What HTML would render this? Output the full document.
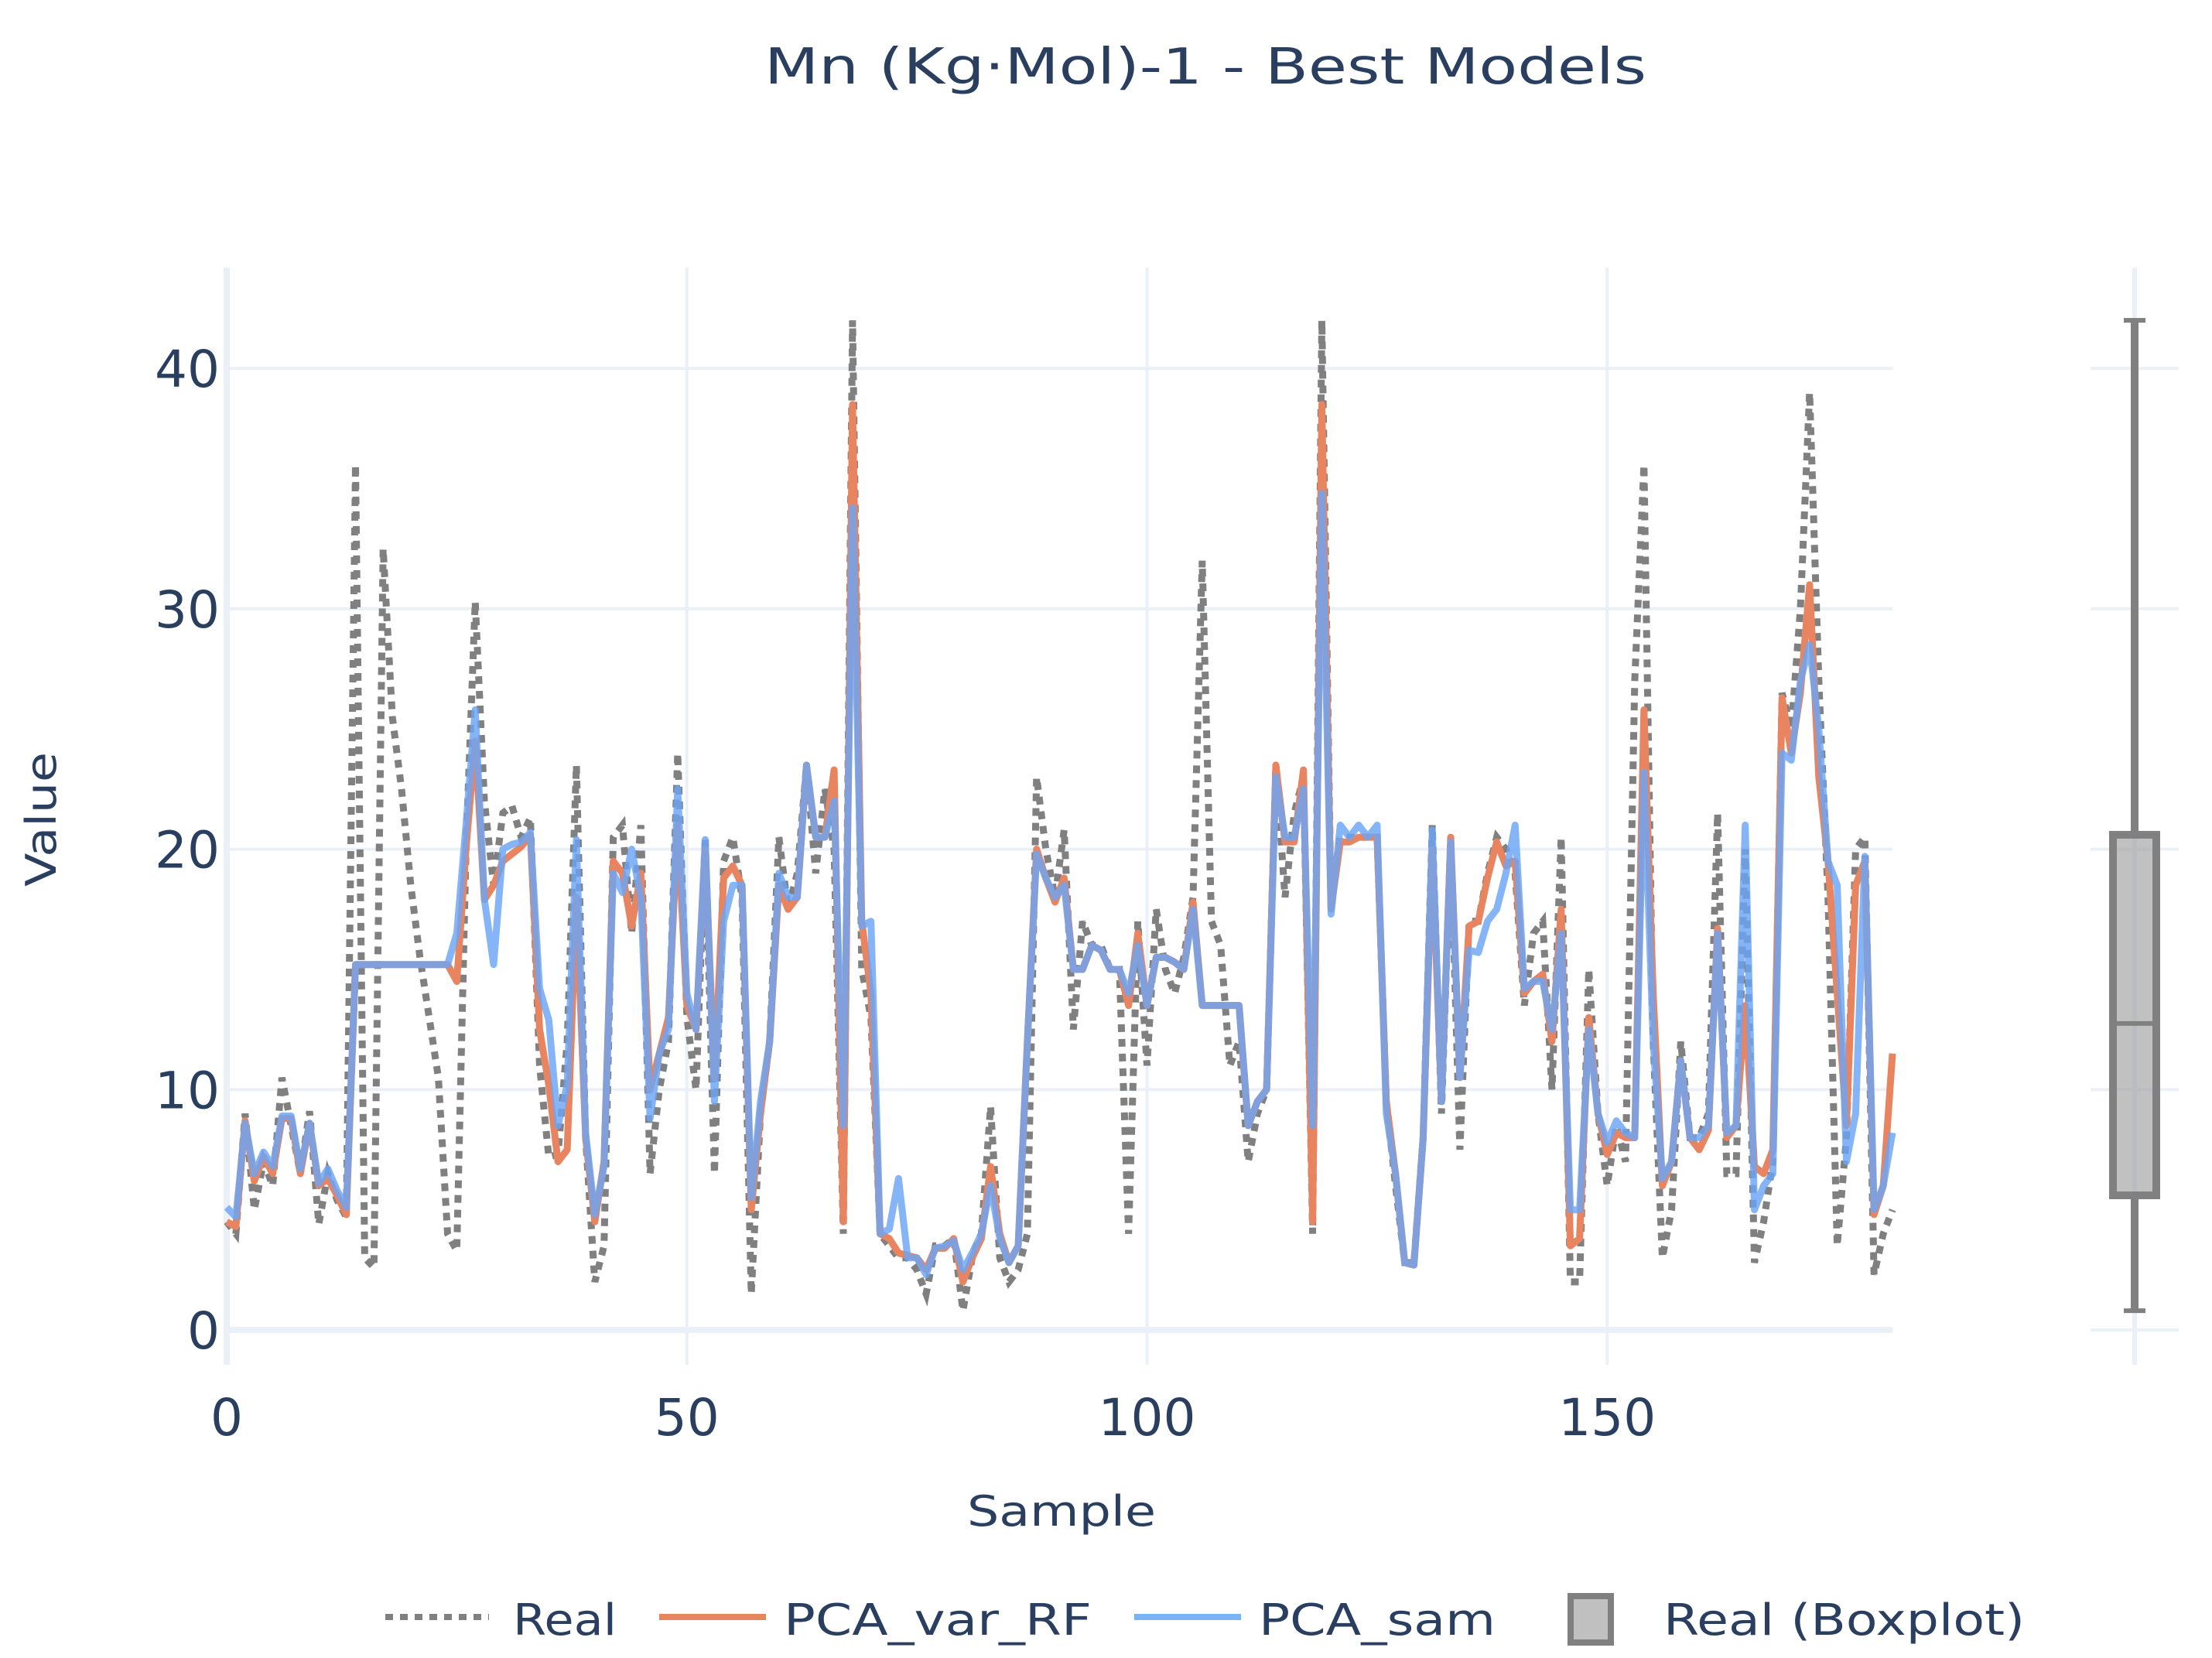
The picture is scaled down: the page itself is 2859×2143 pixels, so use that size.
<!DOCTYPE html>
<html><head><meta charset="utf-8">
<style>
html,body{margin:0;padding:0;background:#fff;}
svg{display:block;font-family:"DejaVu Sans","Liberation Sans",sans-serif;}
</style></head>
<body>
<svg id="chart" xmlns="http://www.w3.org/2000/svg" width="2859" height="2143" viewBox="0 0 2859 2143">
<rect width="2859" height="2143" fill="#fff"/>
<g id="grid"></g>
<g id="series"></g>
<g id="box"></g>
<g id="axes"></g>
<text x="1558" y="108" text-anchor="middle" font-size="64" fill="#2a3f5f" textLength="1140" lengthAdjust="spacingAndGlyphs">Mn (Kg·Mol)-1 - Best Models</text>
<text x="1372" y="1972" text-anchor="middle" font-size="54" fill="#2a3f5f" textLength="244" lengthAdjust="spacingAndGlyphs">Sample</text>
<text x="0" y="0" transform="translate(72,1059) rotate(-90)" text-anchor="middle" font-size="54" fill="#2a3f5f" textLength="174" lengthAdjust="spacingAndGlyphs">Value</text>
<g>
  <g>
    <line x1="498" y1="2090" x2="632" y2="2090" stroke="#808080" stroke-width="8" stroke-dasharray="10,9"/>
    <text x="663" y="2113" font-size="56" fill="#2a3f5f" textLength="134" lengthAdjust="spacingAndGlyphs">Real</text>
  </g>
  <g>
    <line x1="852" y1="2090" x2="990" y2="2090" stroke="#e8845f" stroke-width="8"/>
    <text x="1013" y="2113" font-size="56" fill="#2a3f5f" textLength="398" lengthAdjust="spacingAndGlyphs">PCA_var_RF</text>
  </g>
  <g>
    <line x1="1466" y1="2090" x2="1604" y2="2090" stroke="#7ab3f7" stroke-width="8"/>
    <text x="1627" y="2113" font-size="56" fill="#2a3f5f" textLength="306" lengthAdjust="spacingAndGlyphs">PCA_sam</text>
  </g>
  <g>
    <rect x="2030" y="2063" width="52" height="60" fill="#c0c0c0" stroke="#808080" stroke-width="8"/>
    <text x="2150" y="2113" font-size="56" fill="#2a3f5f" textLength="467" lengthAdjust="spacingAndGlyphs">Real (Boxplot)</text>
  </g>
</g>
</svg>
<script>
const categories = Array.from({length:182},(_,i)=>i);
const realValues = [4.5,4,9,5,7,6,10.5,8.5,6.5,9.1,4.4,6.5,5.4,4.7,
36,3,2.6,32.5,25.5,22.5,18.5,15.5,13,10.5,4,3.3,20,30.3,
22,18.5,21.5,21.8,20.5,21.3,11,7.2,7.3,12,23.5,8,2,3.5,
20.5,21,16.5,21,6.5,10,12,24,13,10,20.5,6.5,19.5,20.5,
18,1.5,9,12,20.5,17.5,19,23.5,19,22.5,20,4,42,15,
13,4,3.5,3,3,2.5,1.5,3.5,3.5,3.8,0.8,3,4,9.3,
3,2,2.5,4,23,20,18,20.8,12.5,17,16,16,15,15,
4,17,11,17.5,15,14,15.5,18,32,17,16,11,12,7,
9,10,23.5,18,21.5,23,4,42,17.5,20.5,20.5,20.5,20.5,20.5,
9.5,6,2.8,2.8,8,21,9,20.5,7.5,17,17,19,20.5,20,
19,13.5,16.5,17,10,20.5,2,2,15,9,6,8.5,7,27,
36,12,3,5,12,8,8,9,21.5,6.5,6.5,20,2.8,4.5,
7,26.5,25,30,39,27,18,3.5,8,20,20.5,2.3,4,5];
const rfValues = [4.5,4.3,8.7,6.2,7.2,6.5,8.8,8.8,6.5,8.6,6,6.3,5.6,4.8,
15.2,15.2,15.2,15.2,15.2,15.2,15.2,15.2,15.2,15.2,15.2,14.5,20,24.5,
17.9,18.5,19.5,19.8,20.1,20.6,12.5,10.2,7,7.5,18,8,4.5,7,
19.5,19,16.8,19,10,11.5,13,21,13.5,12.5,20,10.5,18.8,19.3,
18.5,5,9,12,18.5,17.5,18,23.5,20.5,20.5,23.3,4.5,38.5,17,
14,4,3.8,3.2,3.1,3,2.5,3.4,3.4,3.8,2,3,3.8,6.8,
4,2.8,3.5,12,20,18.8,17.8,18.8,15,15,16,15.8,15,15,
13.5,16.5,13.5,15.5,15.5,15.3,15,17.8,13.5,13.5,13.5,13.5,13.5,8.5,
9.5,10,23.5,20.3,20.3,23.3,4.5,38.5,17.5,20.3,20.3,20.5,20.5,20.5,
9.5,6.5,2.8,2.7,8,20,9.5,20.5,10.5,16.8,17,18.8,20.3,19.3,
19.5,14,14.5,14.8,12,17.5,3.5,3.8,13,9,7.3,8.2,8,8,
25.8,14,6,7,11.2,8,7.5,8.3,16.7,8,8.5,13.5,6.8,6.5,
7.5,26.3,24,26.5,31,23,19.5,14,8.5,18.5,19.5,4.8,6,11.5];
const samValues = [5.1,4.7,8.6,6.5,7.4,6.8,8.9,8.9,6.7,8.6,6.1,6.7,5.8,5.1,
15.2,15.2,15.2,15.2,15.2,15.2,15.2,15.2,15.2,15.2,15.2,16.5,21,25.8,
17.9,15.2,20,20.2,20.3,20.7,14.2,12.9,8.5,10.2,20.4,8.2,4.8,6.8,
19,18.2,20,18,8.8,11.5,12.5,22.5,14,12.5,20.4,9.5,17,18.5,
18.5,5.5,9.5,12,19,18,18,23.5,20.5,20.5,22,8.5,34.2,16.8,
17,4,4.2,6.3,3,3,2.3,3.4,3.5,3.7,2.5,3.2,4,6,
3.8,2.8,3.5,12,19.8,18.8,18,18.5,15,15,16,15.8,15,15,
14,16,13.5,15.5,15.5,15.3,15,17.5,13.5,13.5,13.5,13.5,13.5,8.5,
9.5,10,23,20.5,20.5,22.5,8.5,34.8,17.3,21,20.5,21,20.5,21,
9,6.5,2.8,2.7,8,20.8,9.5,20.3,10.5,15.8,15.7,17,17.5,19,
21,14.2,14.5,14.5,12.5,16.5,5,5,12.5,9,7.8,8.7,8.2,8,
23.2,12,6.3,7,11.2,8,8,8.5,16.5,8.2,8.5,21,5,6,
6.5,24,23.7,27,28.5,25,19.5,18.5,7,9,19.7,5,6,8.2];
const boxStats = [0.8, 5.6, 12.75, 20.6, 42]; // min, q1, median, q3, max
const yTicks = [0,10,20,30,40];
const xTicks = [0,50,100,150];

const NS = "http://www.w3.org/2000/svg";
const PL = 293, PR = 2446, PT = 346, PB = 1764;
const XMIN = 0, XMAX = 181;
function xs(v){ return PL + (v - XMIN) / (XMAX - XMIN) * (PR - PL); }
function ys(v){ return 1719 - (v) * 31.07; }
function mk(tag, attrs, parent){
  const e = document.createElementNS(NS, tag);
  for (const k in attrs) e.setAttribute(k, attrs[k]);
  parent.appendChild(e);
  return e;
}
const grid = document.getElementById('grid');
const axes = document.getElementById('axes');
const series = document.getElementById('series');
const box = document.getElementById('box');

yTicks.forEach(t => {
  const w = t === 0 ? 8 : 4;
  const g = mk('line', {x1: PL, x2: PR, y1: ys(t), y2: ys(t), stroke: '#ebf0f8', 'stroke-width': w}, grid);
  
  
  const g2 = mk('line', {x1: 2702, x2: 2816, y1: ys(t), y2: ys(t), stroke: '#ebf0f8', 'stroke-width': 4}, grid);
  
  
  const lb = mk('text', {x: 284, y: ys(t) + 24, 'text-anchor': 'end', 'font-size': 66, fill: '#2a3f5f'}, axes);
  lb.textContent = t;
  
  
});
xTicks.forEach(t => {
  const w = t === 0 ? 8 : 4;
  const g = mk('line', {x1: xs(t), x2: xs(t), y1: PT, y2: PB, stroke: '#ebf0f8', 'stroke-width': w}, grid);
  
  
  const lb = mk('text', {x: xs(t), y: 1855, 'text-anchor': 'middle', 'font-size': 66, fill: '#2a3f5f'}, axes);
  lb.textContent = t;
  
  
});
const bg = mk('line', {x1: 2759, x2: 2759, y1: PT, y2: PB, stroke: '#ebf0f8', 'stroke-width': 6}, grid);



function pathFor(vals){
  return vals.map((v,i) => (i ? 'L' : 'M') + xs(categories[i]).toFixed(1) + ' ' + ys(v).toFixed(1)).join(' ');
}
const pReal = mk('path', {d: pathFor(realValues), fill: 'none', stroke: '#808080', 'stroke-width': 9, 'stroke-dasharray': '10,9'}, series);


const pRf = mk('path', {d: pathFor(rfValues), fill: 'none', stroke: '#e8845f', 'stroke-width': 9, 'stroke-linejoin': 'round'}, series);


const pSam = mk('path', {d: pathFor(samValues), fill: 'none', stroke: '#6aa5f5', 'stroke-opacity': 0.82, 'stroke-width': 9, 'stroke-linejoin': 'round'}, series);



const cx = 2759;
const wl = mk('line', {x1: cx, x2: cx, y1: ys(boxStats[4]), y2: ys(boxStats[3]), stroke: '#808080', 'stroke-width': 10}, box);


const wl2 = mk('line', {x1: cx, x2: cx, y1: ys(boxStats[1]), y2: ys(boxStats[0]), stroke: '#808080', 'stroke-width': 10}, box);


const c1 = mk('line', {x1: cx - 14, x2: cx + 14, y1: ys(boxStats[4]), y2: ys(boxStats[4]), stroke: '#808080', 'stroke-width': 6}, box);


const c2 = mk('line', {x1: cx - 14, x2: cx + 14, y1: ys(boxStats[0]), y2: ys(boxStats[0]), stroke: '#808080', 'stroke-width': 6}, box);


const br = mk('rect', {x: cx - 28, y: ys(boxStats[3]), width: 56, height: ys(boxStats[1]) - ys(boxStats[3]), fill: 'rgba(160,160,160,0.65)', stroke: '#808080', 'stroke-width': 10}, box);


const md = mk('line', {x1: cx - 28, x2: cx + 28, y1: ys(boxStats[2]), y2: ys(boxStats[2]), stroke: '#808080', 'stroke-width': 6}, box);


</script>
</body></html>
